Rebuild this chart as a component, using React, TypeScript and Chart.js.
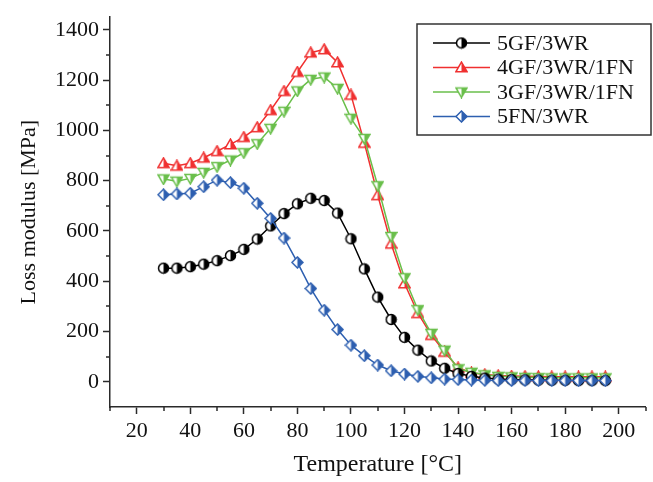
import React, { useEffect, useRef } from "react";
import { Chart, registerables } from "chart.js";

Chart.register(...registerables);

const temperatures = [30, 35, 40, 45, 50, 55, 60, 65, 70, 75, 80, 85, 90, 95, 100, 105, 110, 115, 120, 125, 130, 135, 140, 145, 150, 155, 160, 165, 170, 175, 180, 185, 190, 195];

const gf5wr3 = [452, 452, 458, 468, 482, 502, 527, 568, 620, 669, 708, 730, 721, 671, 569, 449, 337, 248, 177, 126, 83, 54, 33, 22, 15, 11, 9, 8, 7, 6, 6, 5, 5, 5];
const gf4wr3fn1 = [869, 859, 869, 891, 917, 944, 973, 1012, 1080, 1156, 1232, 1309, 1322, 1270, 1141, 950, 742, 549, 391, 273, 186, 119, 56, 36, 29, 25, 23, 22, 21, 20, 20, 20, 20, 20];
const gf3wr3fn1 = [807, 798, 809, 833, 856, 882, 911, 947, 1008, 1076, 1157, 1203, 1212, 1167, 1048, 968, 780, 578, 414, 287, 193, 126, 52, 38, 28, 22, 20, 18, 17, 16, 16, 16, 16, 16];
const fn5wr3 = [744, 747, 750, 776, 802, 792, 770, 710, 650, 572, 475, 371, 285, 208, 146, 104, 67, 44, 31, 22, 16, 11, 9, 7, 6, 5, 5, 5, 5, 5, 5, 5, 5, 5];

const seriesNames = ["5GF/3WR", "4GF/3WR/1FN", "3GF/3WR/1FN", "5FN/3WR"];
const seriesColors = ["#000000", "#f03030", "#6abf4b", "#2d5fb0"];
const seriesShapes = ["circle", "triangleUp", "triangleDown", "diamond"];

const xTicks = [20, 40, 60, 80, 100, 120, 140, 160, 180, 200];
const xMinorTicks = [10, 30, 50, 70, 90, 110, 130, 150, 170, 190, 210];
const yTicks = [0, 200, 400, 600, 800, 1000, 1200, 1400];
const yMinorTicks = [100, 300, 500, 700, 900, 1100, 1300];

const FONT = "'Liberation Serif', 'Times New Roman', serif";
const AXIS_COLOR = "#2a2a2a";

function makeMarker(shape: string, color: string, size = 13): HTMLCanvasElement {
  const c = document.createElement("canvas");
  c.width = size;
  c.height = size;
  const ctx = c.getContext("2d")!;
  const cx = size / 2;
  const cy = size / 2;
  const r = size / 2 - 1;
  const path = () => {
    ctx.beginPath();
    if (shape === "circle") {
      ctx.arc(cx, cy, r - 0.5, 0, Math.PI * 2);
    } else if (shape === "triangleUp") {
      ctx.moveTo(cx, cy - r);
      ctx.lineTo(cx + r, cy + r * 0.75);
      ctx.lineTo(cx - r, cy + r * 0.75);
      ctx.closePath();
    } else if (shape === "triangleDown") {
      ctx.moveTo(cx, cy + r);
      ctx.lineTo(cx + r, cy - r * 0.75);
      ctx.lineTo(cx - r, cy - r * 0.75);
      ctx.closePath();
    } else {
      ctx.moveTo(cx, cy - r);
      ctx.lineTo(cx + r, cy);
      ctx.lineTo(cx, cy + r);
      ctx.lineTo(cx - r, cy);
      ctx.closePath();
    }
  };
  path();
  ctx.fillStyle = "#ffffff";
  ctx.fill();
  ctx.save();
  ctx.beginPath();
  ctx.rect(cx, 0, size, size);
  ctx.clip();
  path();
  ctx.fillStyle = color;
  ctx.fill();
  ctx.restore();
  path();
  ctx.lineWidth = 1.5;
  ctx.strokeStyle = color;
  ctx.stroke();
  return c;
}

export default function App() {
  const ref = useRef<HTMLCanvasElement | null>(null);

  useEffect(() => {
    if (!ref.current) return;
    const markers = seriesShapes.map((s, i) => makeMarker(s, seriesColors[i]));
    const values = [gf5wr3, gf4wr3fn1, gf3wr3fn1, fn5wr3];
    const orders = [1, 3, 2, 0];

    const minorTicksPlugin = {
      id: "minorTicks",
      afterDraw(chart: any) {
        const ctx = chart.ctx;
        const xs = chart.scales.x;
        const ys = chart.scales.y;
        const area = chart.chartArea;
        ctx.save();
        ctx.strokeStyle = AXIS_COLOR;
        ctx.lineWidth = 1.5;
        ctx.beginPath();
        xMinorTicks.forEach((v) => {
          const px = Math.round(xs.getPixelForValue(v));
          ctx.moveTo(px, area.bottom);
          ctx.lineTo(px, area.bottom + 4);
        });
        yMinorTicks.forEach((v) => {
          const py = Math.round(ys.getPixelForValue(v));
          ctx.moveTo(area.left, py);
          ctx.lineTo(area.left - 4, py);
        });
        ctx.stroke();
        ctx.restore();
      },
    };

    const legendPlugin = {
      id: "boxLegend",
      afterDraw(chart: any) {
        const ctx = chart.ctx;
        const left = 417;
        const top = 24;
        const width = 234;
        const height = 111;
        ctx.save();
        ctx.fillStyle = "#ffffff";
        ctx.fillRect(left, top, width, height);
        ctx.strokeStyle = "#333333";
        ctx.lineWidth = 1.5;
        ctx.strokeRect(left, top, width, height);
        seriesNames.forEach((name, i) => {
          const y = 43 + i * 24.5;
          ctx.strokeStyle = seriesColors[i];
          ctx.lineWidth = 1.5;
          ctx.beginPath();
          ctx.moveTo(433, y);
          ctx.lineTo(490, y);
          ctx.stroke();
          const m = markers[i];
          ctx.drawImage(m, 461.5 - m.width / 2, y - m.height / 2);
          ctx.fillStyle = "#111111";
          ctx.font = `22px ${FONT}`;
          ctx.textBaseline = "middle";
          ctx.textAlign = "left";
          ctx.fillText(name, 497, y + 1);
        });
        ctx.restore();
      },
    };

    const chart = new Chart(ref.current, {
      type: "line",
      data: {
        datasets: seriesNames.map((name, i) => ({
          label: name,
          data: temperatures.map((t, j) => ({ x: t, y: values[i][j] })),
          borderColor: seriesColors[i],
          backgroundColor: seriesColors[i],
          borderWidth: 1.5,
          pointStyle: markers[i] as any,
          pointRadius: 6,
          tension: 0,
          order: orders[i],
        })),
      },
      options: {
        animation: false,
        responsive: false,
        maintainAspectRatio: false,
        layout: { padding: { top: 7, right: 6, left: 0, bottom: 0 } },
        plugins: { legend: { display: false }, tooltip: { enabled: false } },
        scales: {
          x: {
            type: "linear",
            min: 10,
            max: 210,
            afterBuildTicks: (s: any) => {
              s.ticks = xTicks.map((v) => ({ value: v }));
            },
            afterFit: (s: any) => {
              s.height = 75;
            },
            grid: { display: true, drawOnChartArea: false, drawTicks: true, tickLength: 7, tickColor: AXIS_COLOR, tickWidth: 1.5 },
            border: { display: true, color: AXIS_COLOR, width: 1.5 },
            ticks: { font: { family: FONT, size: 22 }, color: "#111111", padding: 4, maxRotation: 0, callback: (v: any) => String(v) },
            title: { display: true, text: "Temperature [°C]", font: { family: FONT, size: 24 }, color: "#111111", padding: { top: 0, bottom: 3 } },
          },
          y: {
            type: "linear",
            min: -100,
            max: 1450,
            afterBuildTicks: (s: any) => {
              s.ticks = yTicks.map((v) => ({ value: v }));
            },
            afterFit: (s: any) => {
              s.width = 110;
            },
            grid: { display: true, drawOnChartArea: false, drawTicks: true, tickLength: 7, tickColor: AXIS_COLOR, tickWidth: 1.5 },
            border: { display: true, color: AXIS_COLOR, width: 1.5 },
            ticks: { font: { family: FONT, size: 22 }, color: "#111111", padding: 4, callback: (v: any) => String(v) },
            title: { display: true, text: "Loss modulus [MPa]", font: { family: FONT, size: 22 }, color: "#111111", padding: { top: 16, bottom: 0 } },
          },
        },
      },
      plugins: [minorTicksPlugin, legendPlugin],
    });
    return () => chart.destroy();
  }, []);

  return (
    <div style={{ position: "absolute", left: 0, top: 0, width: 653, height: 482, background: "#ffffff" }}>
      <canvas ref={ref} width={653} height={482} style={{ display: "block", width: 653, height: 482 }} />
    </div>
  );
}
